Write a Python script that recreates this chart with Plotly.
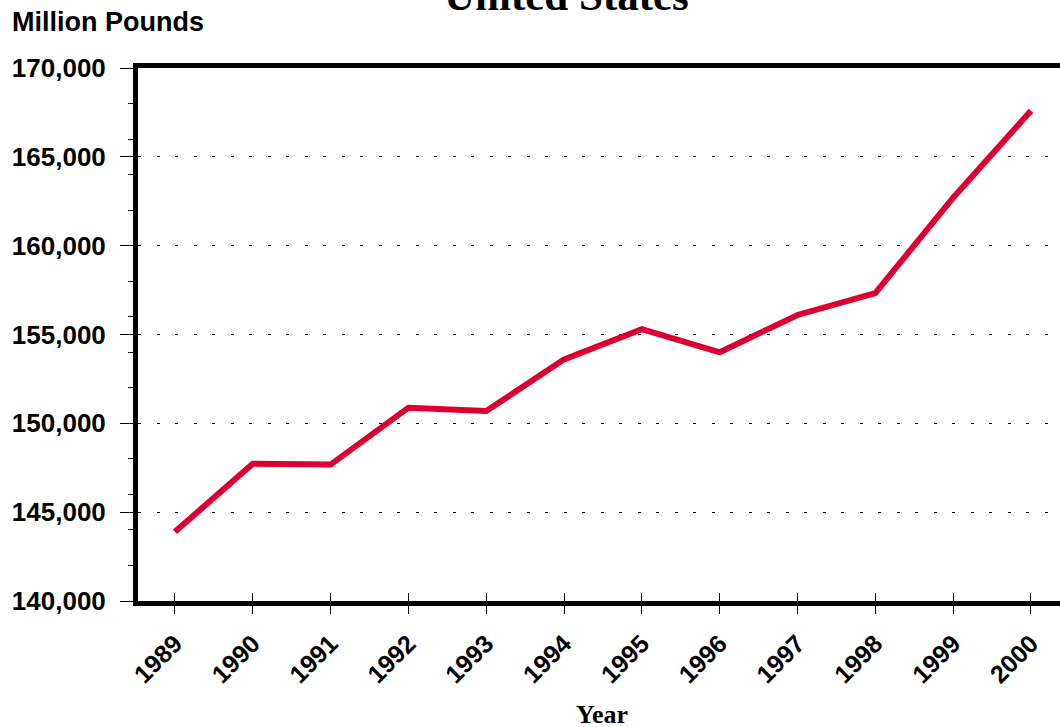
import plotly.graph_objects as go

years = [1989, 1990, 1991, 1992, 1993, 1994, 1995, 1996, 1997, 1998, 1999, 2000]
production = [143900, 147720, 147680, 150880, 150690, 153600, 155300, 154000, 156100, 157330, 162700, 167600]
y_ticks = [140000, 145000, 150000, 155000, 160000, 165000, 170000]

title_text = "United States"
y_title = "Million Pounds"
x_title = "Year"

W, H = 1060, 727
L, R, T, B = 138, 0, 68, 126
pw, ph = W - L - R, H - T - B

sans = "Liberation Sans, Arial, sans-serif"
serif = "Liberation Serif, Times New Roman, serif"
red = "#DC0032"

fig = go.Figure()
fig.add_trace(go.Scatter(x=years, y=production, mode="lines",
                         line=dict(color=red, width=6),
                         hoverinfo="skip", showlegend=False))
fig.add_trace(go.Scatter(x=years, y=production, mode="lines", xaxis="x2",
                         line=dict(color="rgba(0,0,0,0)", width=0),
                         hoverinfo="skip", showlegend=False))

xr = [1988.525, 2000.373]

fig.update_layout(
    width=W, height=H,
    margin=dict(l=L, r=R, t=T, b=B, pad=0),
    plot_bgcolor="white", paper_bgcolor="white",
    xaxis=dict(range=xr, tickvals=years, ticktext=[str(y) for y in years],
               tickangle=-45, showgrid=False, zeroline=False,
               showline=True, linecolor="black", linewidth=5, mirror=True,
               ticks="outside", ticklen=8, tickwidth=1, tickcolor="black",
               tickfont=dict(family=sans, size=25, color="black", weight="bold"),
               ticklabelstandoff=5),
    xaxis2=dict(range=xr, tickvals=years, overlaying="x", anchor="y",
                side="bottom", showticklabels=False, showgrid=False,
                zeroline=False, showline=False,
                ticks="inside", ticklen=8, tickwidth=1, tickcolor="black"),
    yaxis=dict(range=[140000, 170000], tickvals=y_ticks, tickformat=",",
               showgrid=True, gridcolor="black", gridwidth=1,
               griddash="3px,15.5px", zeroline=False,
               showline=True, linecolor="black", linewidth=5, mirror=False,
               ticks="outside", ticklen=13, tickwidth=1, tickcolor="black",
               tickfont=dict(family=sans, size=26, color="black", weight="bold"),
               ticklabelstandoff=9,
               minor=dict(dtick=2000, ticks="outside", ticklen=5,
                          tickwidth=1, tickcolor="black", showgrid=False)),
    annotations=[
        dict(text=title_text, xref="paper", yref="paper",
             x=(566 - L) / pw, y=1 + (T - 21) / ph,
             xanchor="center", yanchor="bottom", showarrow=False,
             font=dict(family=serif, size=43, color="black", weight="bold")),
        dict(text=y_title, xref="paper", yref="paper",
             x=(10 - L) / pw, y=1 + (T - 39) / ph,
             xanchor="left", yanchor="bottom", showarrow=False,
             font=dict(family=sans, size=27, color="black", weight="bold")),
        dict(text=x_title, xref="paper", yref="paper",
             x=(602 - L) / pw, y=-(731 - (T + ph)) / ph,
             xanchor="center", yanchor="bottom", showarrow=False,
             font=dict(family=serif, size=26, color="black", weight="bold")),
    ],
)

fig.write_html("out.html", config={"displayModeBar": False},
               post_script="document.body.style.margin='0';document.body.style.overflow='hidden';")
